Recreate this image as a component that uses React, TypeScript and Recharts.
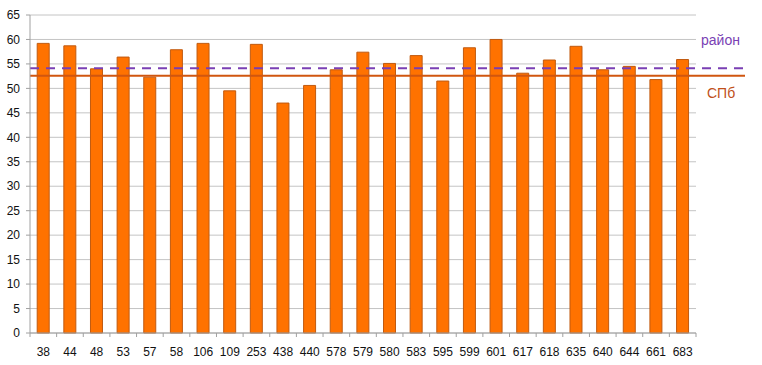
import { BarChart, Bar, XAxis, YAxis, CartesianGrid, ReferenceLine } from "recharts";

const schools = [
  "38", "44", "48", "53", "57", "58", "106", "109", "253", "438", "440", "578", "579",
  "580", "583", "595", "599", "601", "617", "618", "635", "640", "644", "661", "683",
];
const scores = [
  59.2, 58.7, 54.0, 56.4, 52.3, 57.9, 59.2, 49.5, 59.0, 47.0, 50.6, 53.8, 57.4,
  55.1, 56.7, 51.5, 58.3, 60.0, 53.1, 55.8, 58.6, 53.8, 54.5, 51.8, 55.9,
];
const yTicks = [0, 5, 10, 15, 20, 25, 30, 35, 40, 45, 50, 55, 60, 65];
const districtAvg = 54.1;
const cityAvg = 52.6;

const data = schools.map((s, i) => ({ school: s, score: scores[i] }));

const font = "'Liberation Sans', Arial, sans-serif";

function XTick(props: any) {
  const { x, y, payload, width, visibleTicksCount } = props;
  const band = width / visibleTicksCount;
  return (
    <g>
      <line x1={x - band / 2} x2={x - band / 2} y1={y - 8} y2={y - 4} stroke="#a0a0a0" />
      {payload.index === visibleTicksCount - 1 && (
        <line x1={x + band / 2} x2={x + band / 2} y1={y - 8} y2={y - 4} stroke="#a0a0a0" />
      )}
      <text x={x} y={y + 15} textAnchor="middle" fontSize={12} fill="#111" fontFamily={font}>
        {payload.value}
      </text>
    </g>
  );
}

function LongLine(color: string, dash?: string) {
  return (props: any) => (
    <line
      x1={props.x1}
      x2={props.x2 + 49}
      y1={props.y1}
      y2={props.y2}
      stroke={color}
      strokeWidth={2}
      strokeDasharray={dash}
    />
  );
}

export default function App() {
  return (
    <div style={{ position: "absolute", left: 0, top: 0, background: "#fff" }}>
      <BarChart
        width={762}
        height={365}
        data={data}
        margin={{ top: 15, right: 66, bottom: 0, left: 0 }}
        barCategoryGap="27%"
      >
        <CartesianGrid vertical={false} stroke="#c4c4c4" />
        <XAxis
          dataKey="school"
          height={32}
          interval={0}
          tickLine={false}
          axisLine={{ stroke: "#a0a0a0" }}
          tick={<XTick />}
        />
        <YAxis
          width={30}
          domain={[0, 65]}
          ticks={yTicks}
          interval={0}
          tickSize={4}
          tickMargin={6}
          axisLine={{ stroke: "#a0a0a0" }}
          tickLine={{ stroke: "#a0a0a0" }}
          tick={{ fontSize: 12, fill: "#111", fontFamily: font }}
        />
        <Bar dataKey="score" fill="#ff7200" stroke="#c05a10" strokeWidth={1} isAnimationActive={false} />
        <ReferenceLine
          y={cityAvg}
          shape={LongLine("#d0560f")}
          label={{ value: "СПб", position: "right", dx: 6, dy: 17, fill: "#c0501a", fontSize: 14, fontFamily: font }}
        />
        <ReferenceLine
          y={districtAvg}
          shape={LongLine("#7a3fb4", "9 7")}
          label={{ value: "район", position: "right", dx: 0, dy: -28, fill: "#7a3fb4", fontSize: 14, fontFamily: font }}
        />
      </BarChart>
    </div>
  );
}
